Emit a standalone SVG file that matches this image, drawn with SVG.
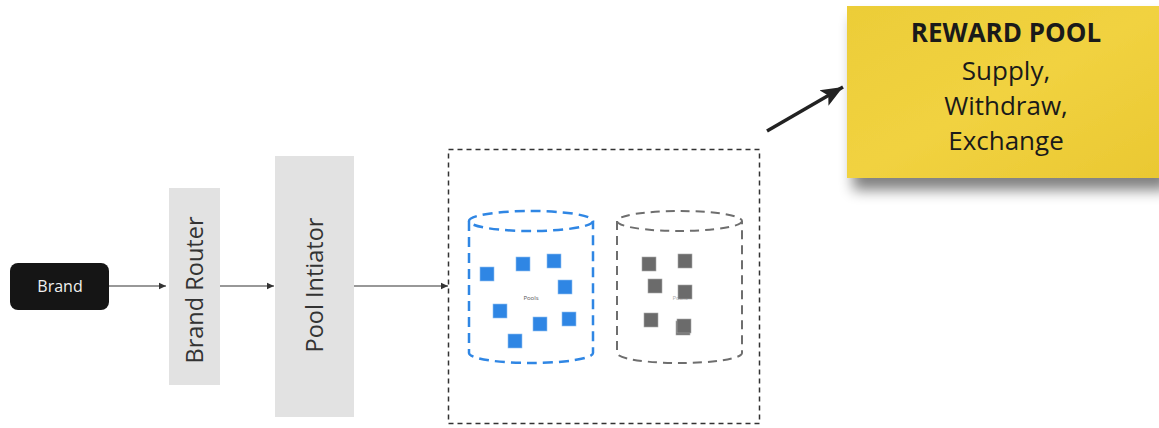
<svg xmlns="http://www.w3.org/2000/svg" width="1159" height="428" viewBox="0 0 1159 428">
<defs>
<style>
.lbl{font-family:"Open Sans","Noto Sans",sans-serif;}
.bar{fill:#e2e2e2;}
.bsq{fill:#2f86e4;stroke:#8fc0f2;stroke-width:0.6;}
.gsq{fill:#6b6b6b;stroke:#a8a8a8;stroke-width:0.6;}
.conn{stroke:#333;stroke-width:1.2;fill:none;}
</style>
<marker id="ah" markerWidth="8" markerHeight="8" refX="7" refY="4" orient="auto" markerUnits="userSpaceOnUse">
<path d="M0,0.8 L7,4 L0,7.2 Z" fill="#333"/>
</marker>
<marker id="bigah" markerWidth="24" markerHeight="20" refX="22" refY="10" orient="auto" markerUnits="userSpaceOnUse">
<path d="M0,1 L22,10 L0,19 L5,10 Z" fill="#222"/>
</marker>
<linearGradient id="yg" x1="0" y1="0" x2="1" y2="1">
<stop offset="0" stop-color="#eccd38"/>
<stop offset="0.5" stop-color="#f1d240"/>
<stop offset="1" stop-color="#eac832"/>
</linearGradient>
<filter id="sh" x="-10%" y="-10%" width="130%" height="150%">
<feGaussianBlur in="SourceAlpha" stdDeviation="7"/>
<feOffset dx="6" dy="12" result="b"/>
<feComponentTransfer><feFuncA type="linear" slope="0.5"/></feComponentTransfer>
<feMerge><feMergeNode/><feMergeNode in="SourceGraphic"/></feMerge>
</filter>
</defs>
<rect width="1159" height="428" fill="#ffffff"/>

<g id="connectors">
<line class="conn" x1="109" y1="286" x2="166" y2="286" marker-end="url(#ah)"/>
<line class="conn" x1="220" y1="286" x2="274" y2="286" marker-end="url(#ah)"/>
<line class="conn" x1="354" y1="286" x2="448" y2="286" marker-end="url(#ah)"/>
<line x1="767" y1="131" x2="843" y2="87" stroke="#222" stroke-width="3.5" marker-end="url(#bigah)"/>
</g>

<g id="brand">
<rect x="10" y="263" width="99" height="47" rx="8" fill="#151515"/>
<text class="lbl" x="60" y="292" font-size="16" fill="#f0f0f0" text-anchor="middle">Brand</text>
</g>

<g id="brand-router">
<rect class="bar" x="169" y="188" width="51" height="197"/>
<text class="lbl" transform="translate(203,290) rotate(-90)" font-size="23.5" fill="#333" text-anchor="middle">Brand Router</text>
</g>

<g id="pool-initiator">
<rect class="bar" x="275" y="156" width="79" height="261"/>
<text class="lbl" transform="translate(323,285) rotate(-90)" font-size="23.5" fill="#333" text-anchor="middle">Pool Intiator</text>
</g>

<g id="pools-container">
<rect x="448.5" y="149.5" width="311" height="274" fill="none" stroke="#333" stroke-width="1.5" stroke-dasharray="5,4"/>
</g>

<g id="blue-pool">
<path d="M469,221 L469,353 A62,10 0 0 0 593,353 L593,221" fill="none" stroke="#2f86e4" stroke-width="2.5" stroke-dasharray="10,6"/>
<ellipse cx="531" cy="221" rx="62" ry="10" fill="none" stroke="#2f86e4" stroke-width="2.5" stroke-dasharray="10,6"/>
<text class="lbl" x="531" y="300" font-size="6" fill="#555" text-anchor="middle">Pools</text>
<rect class="bsq" x="480" y="267" width="14" height="14"/>
<rect class="bsq" x="516" y="257" width="14" height="14"/>
<rect class="bsq" x="547" y="254" width="14" height="14"/>
<rect class="bsq" x="558" y="280" width="14" height="14"/>
<rect class="bsq" x="493" y="304" width="14" height="14"/>
<rect class="bsq" x="533" y="317" width="14" height="14"/>
<rect class="bsq" x="562" y="312" width="14" height="14"/>
<rect class="bsq" x="508" y="334" width="14" height="14"/>
</g>

<g id="gray-pool">
<path d="M617,221 L617,353 A62.5,10 0 0 0 742,353 L742,221" fill="none" stroke="#6e6e6e" stroke-width="2" stroke-dasharray="9,6"/>
<ellipse cx="679.5" cy="221" rx="62.5" ry="10" fill="none" stroke="#6e6e6e" stroke-width="2" stroke-dasharray="9,6"/>
<text class="lbl" x="680" y="300" font-size="6" fill="#aaa" text-anchor="middle">Pools</text>
<rect class="gsq" x="642" y="257" width="14" height="14"/>
<rect class="gsq" x="678" y="254" width="14" height="14"/>
<rect class="gsq" x="648" y="279" width="14" height="14"/>
<rect class="gsq" x="678" y="285" width="14" height="14"/>
<rect class="gsq" x="644" y="313" width="14" height="14"/>
<rect class="gsq" x="676" y="321" width="14" height="14"/>
<rect class="gsq" x="677" y="319" width="14" height="14"/>
</g>

<g id="reward-pool">
<rect x="847" y="6" width="316" height="172" fill="url(#yg)" filter="url(#sh)"/>
<text class="lbl" x="1006" y="42" font-size="26" font-weight="bold" fill="#1a1a1a" text-anchor="middle">REWARD POOL</text>
<text class="lbl" x="1006" y="80" font-size="26" fill="#1a1a1a" text-anchor="middle">Supply,</text>
<text class="lbl" x="1006" y="115" font-size="26" fill="#1a1a1a" text-anchor="middle">Withdraw,</text>
<text class="lbl" x="1006" y="150" font-size="26" fill="#1a1a1a" text-anchor="middle">Exchange</text>
</g>
</svg>
